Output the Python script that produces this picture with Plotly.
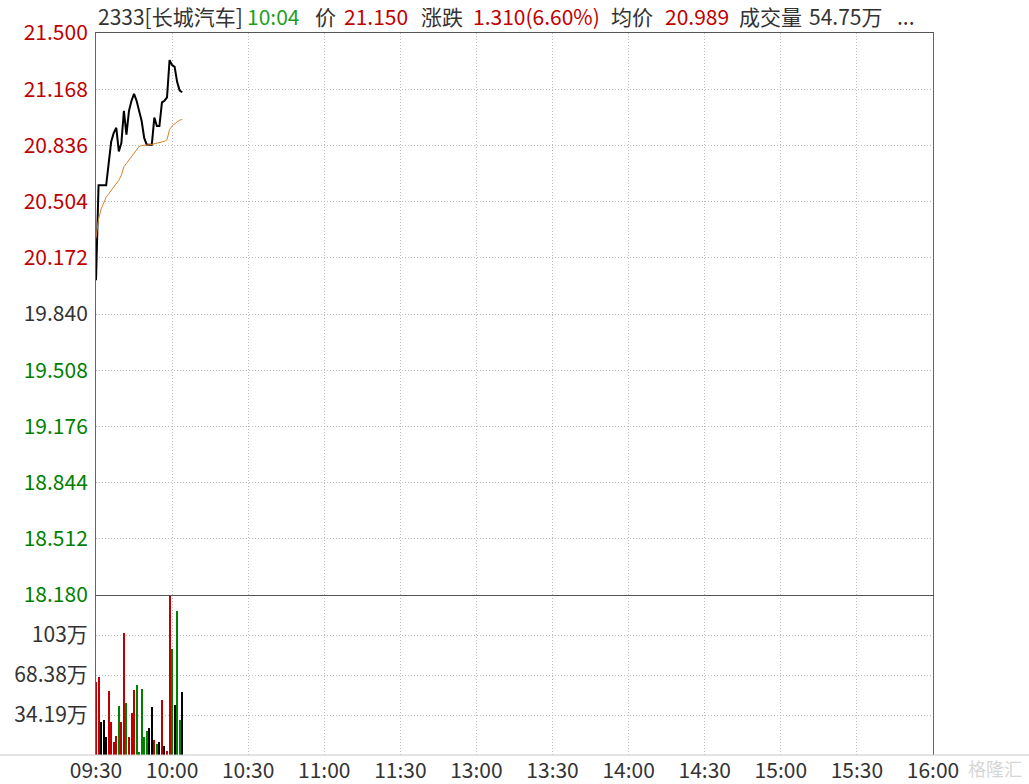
import plotly.graph_objects as go

# ---------------- data ----------------
time_labels = ["09:30", "10:00", "10:30", "11:00", "11:30", "13:00",
               "13:30", "14:00", "14:30", "15:00", "15:30", "16:00"]
total_minutes = 330
prev_close = 19.840

price = [20.04, 20.60, 20.60, 20.60, 20.60, 20.73, 20.86, 20.91, 20.94, 20.80,
         20.85, 21.04, 20.90, 21.04, 21.10, 21.14, 21.10, 21.04, 20.98, 20.88,
         20.84, 20.84, 20.84, 21.00, 20.95, 20.95, 21.09, 21.10, 21.12, 21.34,
         21.31, 21.30, 21.21, 21.16, 21.15]
avg_price = [20.29, 20.40, 20.46, 20.50, 20.53, 20.55, 20.57, 20.59, 20.61, 20.63,
             20.66, 20.71, 20.73, 20.75, 20.77, 20.79, 20.81, 20.83, 20.835, 20.838,
             20.84, 20.84, 20.842, 20.845, 20.847, 20.85, 20.855, 20.86, 20.87, 20.93,
             20.95, 20.965, 20.975, 20.985, 20.989]
volume = [62.1, 66.4, 27.9, 29.6, 15.1, 54.4, 27.9, 10.8, 16.0, 41.6,
          27.9, 104.0, 44.2, 15.1, 35.6, 55.3, 59.5, 2.3, 56.1, 15.1,
          20.2, 22.8, 40.7, 12.5, 9.1, 10.8, 46.7, 7.4, 3.1, 136.76,
          90.3, 42.5, 122.8, 29.6, 53.6]
vol_dir = ["r", "r", "k", "k", "k", "r", "r", "r", "r", "g",
           "r", "r", "g", "r", "r", "r", "g", "g", "g", "g",
           "g", "k", "k", "r", "g", "k", "r", "k", "r", "r",
           "g", "k", "g", "g", "k"]

price_ticks = [21.500, 21.168, 20.836, 20.504, 20.172, 19.840,
               19.508, 19.176, 18.844, 18.512, 18.180]
pct_labels = ["8.37%", "6.69%", "5.02%", "3.35%", "1.67%", "0.00%",
              "1.67%", "3.35%", "5.02%", "6.69%", "8.37%"]
vol_ticks = [34.19, 68.38, 102.57]
vol_labels = ["34.19万", "68.38万", "103万"]
vol_max = 136.76

header = [("2333[长城汽车]", "#333333", 96), ("10:04", "#1e9e1e", 245),
          ("价", "#333333", 313), ("21.150", "#c00000", 342),
          ("涨跌", "#333333", 419), ("1.310(6.60%)", "#c00000", 471),
          ("均价", "#333333", 609), ("20.989", "#c00000", 663),
          ("成交量", "#333333", 737), ("54.75万", "#333333", 807),
          ("...", "#333333", 895)]

# ---------------- style ----------------
RED = "#c00000"
GREEN = "#008000"
DARK = "#333333"
FONT = "Noto Sans CJK SC, Noto Sans, sans-serif"
FS = 21
W, H = 1029, 784
ML, MT = 96, 33
MR = W - 933
MB = H - 755
PW = W - ML - MR
PH = H - MT - MB
vol_frac = 160 / PH


def px_x(page_x):
    return (page_x - ML) / PW


def px_y(page_y):
    return 1 - (page_y - MT) / PH


def tick_color(v):
    if abs(v - prev_close) < 1e-6:
        return DARK
    return RED if v > prev_close else GREEN


price_text = [f"<span style='color:{tick_color(v)}'>{v:.3f}</span>" for v in price_ticks]
pct_text = [f"<span style='color:{tick_color(v)}'>{t}</span>" for v, t in zip(price_ticks, pct_labels)]
cmap = {"r": RED, "g": GREEN, "k": "#000000"}

minutes = list(range(len(price)))

fig = go.Figure()
fig.add_trace(go.Scatter(x=minutes, y=price, mode="lines", xaxis="x2", yaxis="y",
                         line=dict(color="#000000", width=2), showlegend=False))
fig.add_trace(go.Scatter(x=minutes, y=avg_price, mode="lines", xaxis="x2", yaxis="y",
                         line=dict(color="#e0802a", width=1), showlegend=False))
fig.add_trace(go.Bar(x=minutes, y=volume, xaxis="x", yaxis="y3", width=0.4,
                     marker=dict(color=[cmap[d] for d in vol_dir], line=dict(width=0)),
                     showlegend=False))

grid = dict(showgrid=True, gridcolor="#bdbdbd", griddash="1px,2px", gridwidth=1)
xticks = list(range(0, total_minutes + 1, 30))

fig.update_layout(
    width=W, height=H, margin=dict(l=ML, r=MR, t=MT, b=MB, autoexpand=False),
    paper_bgcolor="white", plot_bgcolor="white",
    font=dict(family=FONT, size=FS, color=DARK),
    bargap=0,
    xaxis=dict(domain=[0, 1], anchor="y3", range=[0, total_minutes],
               tickvals=xticks, ticktext=time_labels, ticks="", zeroline=False,
               showline=False, ticklabelstandoff=1, automargin=False,
               tickfont=dict(size=FS, color=DARK), **grid),
    xaxis2=dict(domain=[0, 1], anchor="y", matches="x", range=[0, total_minutes],
                tickvals=xticks, showticklabels=False, ticks="", zeroline=False,
                showline=True, mirror=True, linecolor="#555555", linewidth=1,
                automargin=False, **grid),
    yaxis=dict(domain=[vol_frac, 1], anchor="x2", range=[price_ticks[-1], price_ticks[0]],
               tickvals=price_ticks, ticktext=price_text, ticks="", zeroline=False,
               showline=True, mirror=True, linecolor="#666666", linewidth=1,
               ticklabelstandoff=3, automargin=False, tickfont=dict(size=FS), **grid),
    yaxis2=dict(overlaying="y", side="right", anchor="x2",
                range=[price_ticks[-1], price_ticks[0]],
                tickvals=price_ticks, ticktext=pct_text, ticks="", zeroline=False,
                showgrid=False, showline=False, ticklabelstandoff=2, automargin=False,
                tickfont=dict(size=FS)),
    yaxis3=dict(domain=[0, vol_frac], anchor="x", range=[0, vol_max],
                tickvals=vol_ticks, ticktext=vol_labels, ticks="", zeroline=False,
                showline=True, mirror=True, linecolor="#666666", linewidth=1,
                ticklabelstandoff=3, automargin=False,
                tickfont=dict(size=FS, color=DARK), **grid),
    yaxis4=dict(overlaying="y3", side="right", anchor="x", range=[0, vol_max],
                tickvals=vol_ticks, ticktext=vol_labels, ticks="", zeroline=False,
                showgrid=False, showline=False, ticklabelstandoff=2, automargin=False,
                tickfont=dict(size=FS, color=DARK)),
)

# full-width bottom rule
fig.add_shape(type="line", xref="paper", yref="paper",
              x0=-ML / PW, x1=1 + MR / PW, y0=0, y1=0,
              line=dict(color="#c8c8c8", width=1), layer="above")

# header line
for txt, col, px in header:
    fig.add_annotation(text=txt, xref="paper", yref="paper",
                       x=px_x(px), y=px_y(16),
                       xanchor="left", yanchor="middle", showarrow=False,
                       font=dict(size=FS, color=col, family=FONT))

# watermark
fig.add_annotation(text="格隆汇", xref="paper", yref="paper",
                   x=px_x(1024), y=px_y(768),
                   xanchor="right", yanchor="middle", showarrow=False,
                   font=dict(size=18, color="#d6d6d6", family=FONT))

# remove the browser's default 8px page margin so the figure sits at (0, 0)
fig.write_html("out.html",
               config={"displayModeBar": False},
               post_script="document.body.style.margin='0';document.body.style.overflow='hidden';")
